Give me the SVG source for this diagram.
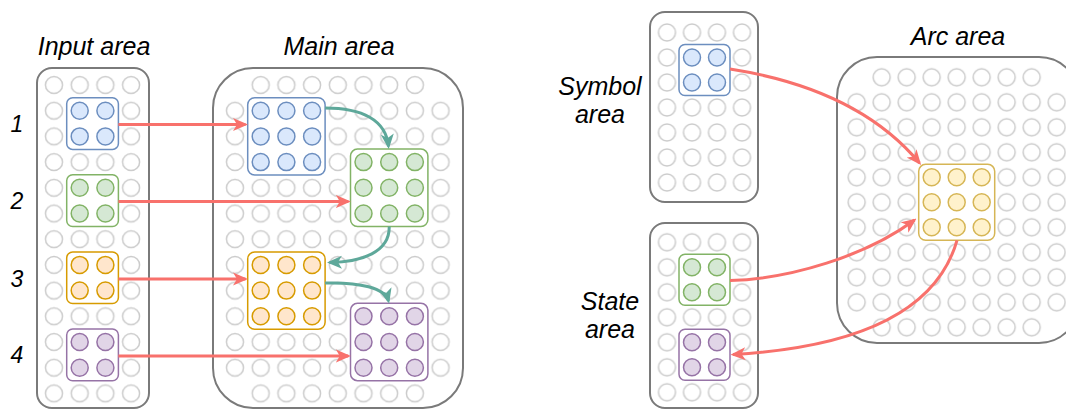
<svg xmlns="http://www.w3.org/2000/svg" xmlns:xlink="http://www.w3.org/1999/xlink" width="1066" height="410" viewBox="0 0 1066 410">
<style>
.lbl{font-family:"Liberation Sans",Arial,sans-serif;font-style:italic;font-size:25px;fill:#000}
.num{font-family:"Liberation Sans",Arial,sans-serif;font-style:italic;font-size:23px;fill:#000}
.area{fill:#fff;stroke:#7a7a7a;stroke-width:2}
.blk{fill:#fff;stroke-width:1.5}
.cl{stroke-width:1.5}
.blue{stroke:#6c8ebf}.cblue{fill:#dae8fc;stroke:#6c8ebf}
.green{stroke:#82b366}.cgreen{fill:#d5e8d4;stroke:#82b366}
.orange{stroke:#d79b00}.corange{fill:#ffe6cc;stroke:#d79b00}
.purple{stroke:#9673a6}.cpurple{fill:#e1d5e7;stroke:#9673a6}
.yellow{stroke:#d6b656}.cyellow{fill:#fff2cc;stroke:#d6b656}
.red{fill:none;stroke:#f8716c;stroke-width:3}
.teal{fill:none;stroke:#5ea89a;stroke-width:3}
</style>
<defs>
<pattern id="gL" patternUnits="userSpaceOnUse" x="0" y="0" width="25.7" height="25.7"><circle cx="12.85" cy="12.85" r="8.5" fill="#fff" stroke="#cccccc" stroke-width="1.5"/></pattern>
<pattern id="gR" patternUnits="userSpaceOnUse" x="0" y="0" width="25" height="25"><circle cx="12.5" cy="12.5" r="8.5" fill="#fff" stroke="#cccccc" stroke-width="1.5"/></pattern>
<g id="b2L" class="cl"><circle cx="0" cy="0" r="8.5"/><circle cx="25.7" cy="0" r="8.5"/><circle cx="0" cy="25.7" r="8.5"/><circle cx="25.7" cy="25.7" r="8.5"/></g>
<g id="b3L" class="cl"><circle cx="0" cy="0" r="8.5"/><circle cx="25.7" cy="0" r="8.5"/><circle cx="51.4" cy="0" r="8.5"/><circle cx="0" cy="25.7" r="8.5"/><circle cx="25.7" cy="25.7" r="8.5"/><circle cx="51.4" cy="25.7" r="8.5"/><circle cx="0" cy="51.4" r="8.5"/><circle cx="25.7" cy="51.4" r="8.5"/><circle cx="51.4" cy="51.4" r="8.5"/></g>
<g id="b2R" class="cl"><circle cx="0" cy="0" r="8.5"/><circle cx="25" cy="0" r="8.5"/><circle cx="0" cy="25" r="8.5"/><circle cx="25" cy="25" r="8.5"/></g>
<g id="b3R" class="cl"><circle cx="0" cy="0" r="8.5"/><circle cx="25" cy="0" r="8.5"/><circle cx="50" cy="0" r="8.5"/><circle cx="0" cy="25" r="8.5"/><circle cx="25" cy="25" r="8.5"/><circle cx="50" cy="25" r="8.5"/><circle cx="0" cy="50" r="8.5"/><circle cx="25" cy="50" r="8.5"/><circle cx="50" cy="50" r="8.5"/></g>
<marker id="ar" markerUnits="userSpaceOnUse" viewBox="0 0 15 14" markerWidth="15" markerHeight="14" refX="12.5" refY="7" orient="auto"><path d="M0,0.5 L15,7 L0,13.5 L4,7 z" fill="#f8716c"/></marker>
<marker id="at" markerUnits="userSpaceOnUse" viewBox="0 0 15 14" markerWidth="15" markerHeight="14" refX="12.5" refY="7" orient="auto"><path d="M0,0.5 L15,7 L0,13.5 L4,7 z" fill="#5ea89a"/></marker>
</defs>
<rect width="1066" height="410" fill="#fff"/>

<g id="labels">
<text class="lbl" x="94" y="55" text-anchor="middle">Input area</text>
<text class="lbl" x="339" y="55" text-anchor="middle">Main area</text>
<text class="lbl" x="958" y="45" text-anchor="middle">Arc area</text>
<text class="lbl" x="600" y="95" text-anchor="middle">Symbol</text>
<text class="lbl" x="600" y="123" text-anchor="middle">area</text>
<text class="lbl" x="610" y="310" text-anchor="middle">State</text>
<text class="lbl" x="610" y="338" text-anchor="middle">area</text>
<text class="num" x="17" y="132" text-anchor="middle">1</text>
<text class="num" x="17" y="209" text-anchor="middle">2</text>
<text class="num" x="17" y="287" text-anchor="middle">3</text>
<text class="num" x="17" y="363" text-anchor="middle">4</text>
</g>

<g id="input-area">
<rect class="area" x="37" y="68" width="112" height="340" rx="15"/>
<rect x="0" y="0" width="102.8" height="334.1" fill="url(#gL)" transform="translate(41.15,72.15)"/>
</g>
<g id="main-area">
<rect class="area" x="213" y="68" width="250" height="340" rx="40"/>
<rect x="0" y="0" width="179.9" height="25.7" fill="url(#gL)" transform="translate(247.85,72.15)"/>
<rect x="0" y="0" width="231.3" height="282.7" fill="url(#gL)" transform="translate(222.15,97.85)"/>
<rect x="0" y="0" width="179.9" height="25.7" fill="url(#gL)" transform="translate(247.85,380.55)"/>
</g>
<g id="symbol-area">
<rect class="area" x="650" y="12" width="108" height="190" rx="15"/>
<rect x="0" y="0" width="100" height="175" fill="url(#gR)" transform="translate(654.5,20)"/>
</g>
<g id="state-area">
<rect class="area" x="650" y="223" width="108" height="185" rx="15"/>
<rect x="0" y="0" width="100" height="175" fill="url(#gR)" transform="translate(654.5,229.8)"/>
</g>
<g id="arc-area">
<rect class="area" x="837" y="57" width="242" height="286" rx="40"/>
<rect x="0" y="0" width="175" height="25" fill="url(#gR)" transform="translate(869.2,64.8)"/>
<rect x="0" y="0" width="225" height="225" fill="url(#gR)" transform="translate(844.2,89.8)"/>
<rect x="0" y="0" width="175" height="25" fill="url(#gR)" transform="translate(869.2,314.8)"/>
</g>

<g id="in-blue"><rect class="blk blue" x="66.7" y="97.7" width="51.7" height="51.7" rx="6"/><use xlink:href="#b2L" href="#b2L" x="79.7" y="110.7" class="cblue"/></g>
<g id="in-green"><rect class="blk green" x="66.7" y="174.8" width="51.7" height="51.7" rx="6"/><use xlink:href="#b2L" href="#b2L" x="79.7" y="187.8" class="cgreen"/></g>
<g id="in-orange"><rect class="blk orange" x="66.7" y="251.9" width="51.7" height="51.7" rx="6"/><use xlink:href="#b2L" href="#b2L" x="79.7" y="264.9" class="corange"/></g>
<g id="in-purple"><rect class="blk purple" x="66.7" y="329" width="51.7" height="51.7" rx="6"/><use xlink:href="#b2L" href="#b2L" x="79.7" y="342" class="cpurple"/></g>

<g id="main-blue"><rect class="blk blue" x="247.7" y="97.7" width="77.4" height="77.4" rx="7"/><use xlink:href="#b3L" href="#b3L" x="260.7" y="110.7" class="cblue"/></g>
<g id="main-green"><rect class="blk green" x="350.5" y="149.1" width="77.4" height="77.4" rx="7"/><use xlink:href="#b3L" href="#b3L" x="363.5" y="162.1" class="cgreen"/></g>
<g id="main-orange"><rect class="blk orange" x="247.7" y="251.9" width="77.4" height="77.4" rx="7"/><use xlink:href="#b3L" href="#b3L" x="260.7" y="264.9" class="corange"/></g>
<g id="main-purple"><rect class="blk purple" x="350.5" y="303.3" width="77.4" height="77.4" rx="7"/><use xlink:href="#b3L" href="#b3L" x="363.5" y="316.3" class="cpurple"/></g>

<g id="sym-blue"><rect class="blk blue" x="679" y="44.5" width="51" height="51" rx="6"/><use xlink:href="#b2R" href="#b2R" x="692" y="57.5" class="cblue"/></g>
<g id="state-green"><rect class="blk green" x="679" y="254.3" width="51" height="51" rx="6"/><use xlink:href="#b2R" href="#b2R" x="692" y="267.3" class="cgreen"/></g>
<g id="state-purple"><rect class="blk purple" x="679" y="329.3" width="51" height="51" rx="6"/><use xlink:href="#b2R" href="#b2R" x="692" y="342.3" class="cpurple"/></g>
<g id="arc-yellow"><rect class="blk yellow" x="918.7" y="164.3" width="76" height="76" rx="7"/><use xlink:href="#b3R" href="#b3R" x="931.7" y="177.3" class="cyellow"/></g>

<g id="connectors">
<path class="red" d="M118.4,124.5 H245.5" marker-end="url(#ar)"/>
<path class="red" d="M118.4,201.5 H348.3" marker-end="url(#ar)"/>
<path class="red" d="M118.4,279 H245.5" marker-end="url(#ar)"/>
<path class="red" d="M118.4,356 H348.3" marker-end="url(#ar)"/>
<path class="teal" d="M325.1,108 C362,108 386,120 388.5,146.5" marker-end="url(#at)"/>
<path class="teal" d="M389.2,226.5 C390,252 362,262 329.5,262.5" marker-end="url(#at)"/>
<path class="teal" d="M325.1,283 C360,282 385,288 388.5,301" marker-end="url(#at)"/>
<path class="red" d="M730,69 C800,80 872,106 919.5,163" marker-end="url(#ar)"/>
<path class="red" d="M730,280.5 C790,279 866,256 914.5,220" marker-end="url(#ar)"/>
<path class="red" d="M957,240.3 C940,300 880,346 733,354.5" marker-end="url(#ar)"/>
</g>
</svg>
